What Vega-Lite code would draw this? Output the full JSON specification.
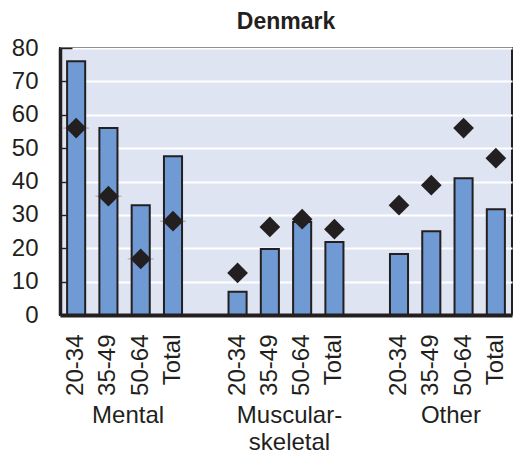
{
  "$schema": "https://vega.github.io/schema/vega-lite/v6.json",
  "autosize": {"type": "none"},
  "padding": {"left": 60, "top": 48, "right": 1, "bottom": 141},
  "width": 452,
  "height": 267,
  "background": "white",
  "title": {
    "text": "Denmark",
    "font": "Liberation Sans, Arial, sans-serif",
    "fontSize": 23,
    "fontWeight": "bold",
    "color": "#231f20",
    "offset": 2,
    "anchor": "middle"
  },
  "config": {
    "view": {"fill": "#dfe4f2", "stroke": "#231f20", "strokeWidth": 2},
    "axis": {
      "labelFont": "Liberation Sans, Arial, sans-serif",
      "labelColor": "#231f20",
      "labelFontSize": 24
    },
    "axisY": {
      "title": null,
      "labelOverlap": false,
      "labelBound": false,
      "grid": true,
      "gridColor": "white",
      "gridWidth": 2,
      "domainColor": "#231f20",
      "domainWidth": 3.5,
      "tickColor": "#231f20",
      "tickWidth": 1.5,
      "tickSize": -12,
      "labelPadding": 34
    }
  },
  "data": {
    "values": [
      {"group": "Mental", "age": "20-34", "cat": "Mental|20-34", "bar": 76.0, "diamond": 56.0},
      {"group": "Mental", "age": "35-49", "cat": "Mental|35-49", "bar": 56.0, "diamond": 35.6},
      {"group": "Mental", "age": "50-64", "cat": "Mental|50-64", "bar": 32.9, "diamond": 16.8},
      {"group": "Mental", "age": "Total", "cat": "Mental|Total", "bar": 47.6, "diamond": 28.1},
      {"group": "Muscular-skeletal", "age": "20-34", "cat": "Muscular-skeletal|20-34", "bar": 7.0, "diamond": 12.6},
      {"group": "Muscular-skeletal", "age": "35-49", "cat": "Muscular-skeletal|35-49", "bar": 19.8, "diamond": 26.4},
      {"group": "Muscular-skeletal", "age": "50-64", "cat": "Muscular-skeletal|50-64", "bar": 27.9, "diamond": 28.7},
      {"group": "Muscular-skeletal", "age": "Total", "cat": "Muscular-skeletal|Total", "bar": 21.9, "diamond": 25.7},
      {"group": "Other", "age": "20-34", "cat": "Other|20-34", "bar": 18.3, "diamond": 32.9},
      {"group": "Other", "age": "35-49", "cat": "Other|35-49", "bar": 25.1, "diamond": 38.9},
      {"group": "Other", "age": "50-64", "cat": "Other|50-64", "bar": 41.0, "diamond": 56.0},
      {"group": "Other", "age": "Total", "cat": "Other|Total", "bar": 31.7, "diamond": 47.0}
    ]
  },
  "layer": [
    {
      "encoding": {
        "x": {
          "field": "cat",
          "type": "nominal",
          "scale": {
            "domain": ["Mental|20-34", "Mental|35-49", "Mental|50-64", "Mental|Total", "gap1",
                       "Muscular-skeletal|20-34", "Muscular-skeletal|35-49", "Muscular-skeletal|50-64", "Muscular-skeletal|Total", "gap2",
                       "Other|20-34", "Other|35-49", "Other|50-64", "Other|Total"],
            "paddingInner": 0.44,
            "paddingOuter": 0.22
          },
          "axis": {
            "title": null,
            "orient": "bottom",
            "labelAngle": -90,
            "labelAlign": "right",
            "labelBaseline": "middle",
            "labelPadding": 19,
            "labelOverlap": false,
            "ticks": false,
            "domainColor": "#231f20",
            "domainWidth": 4,
            "zindex": 1,
            "labelExpr": "indexof(datum.value, 'gap') == 0 ? '' : split(datum.value, '|')[1]"
          }
        }
      },
      "layer": [
        {
          "mark": {"type": "bar", "color": "#6f9ad3", "stroke": "#231f20", "strokeWidth": 2},
          "encoding": {
            "y": {
              "field": "bar",
              "type": "quantitative",
              "scale": {"domain": [0, 80], "nice": false},
              "axis": {"values": [0, 10, 20, 30, 40, 50, 60, 70, 80], "title": null}
            }
          }
        },
        {
          "transform": [{"filter": "datum.group == 'Mental'"}],
          "mark": {"type": "tick", "color": "#8c8c8c", "thickness": 1, "size": 26},
          "encoding": {
            "y": {"field": "diamond", "type": "quantitative", "axis": {"values": [0, 10, 20, 30, 40, 50, 60, 70, 80], "title": null}}
          }
        },
        {
          "mark": {"type": "point", "shape": "diamond", "filled": true, "color": "#231f20", "opacity": 1, "size": 430},
          "encoding": {
            "y": {"field": "diamond", "type": "quantitative", "axis": {"values": [0, 10, 20, 30, 40, 50, 60, 70, 80], "title": null}}
          }
        }
      ]
    },
    {
      "mark": {"type": "point", "opacity": 0},
      "encoding": {
        "x": {
          "field": "group",
          "type": "nominal",
          "scale": {"type": "point", "domain": ["Mental", "Muscular-skeletal", "Other"], "padding": 0.4},
          "axis": {
            "title": null,
            "orient": "bottom",
            "offset": 88,
            "labelAngle": 0,
            "labelAlign": "center",
            "labelBaseline": "top",
            "labelPadding": 0,
            "labelOffset": 3,
            "labelLineHeight": 27,
            "labelOverlap": false,
            "ticks": false,
            "domain": false,
            "grid": false,
            "labelExpr": "datum.value == 'Muscular-skeletal' ? ['Muscular-', 'skeletal'] : datum.value"
          }
        }
      }
    }
  ],
  "resolve": {"scale": {"x": "independent"}, "axis": {"x": "independent"}}
}
